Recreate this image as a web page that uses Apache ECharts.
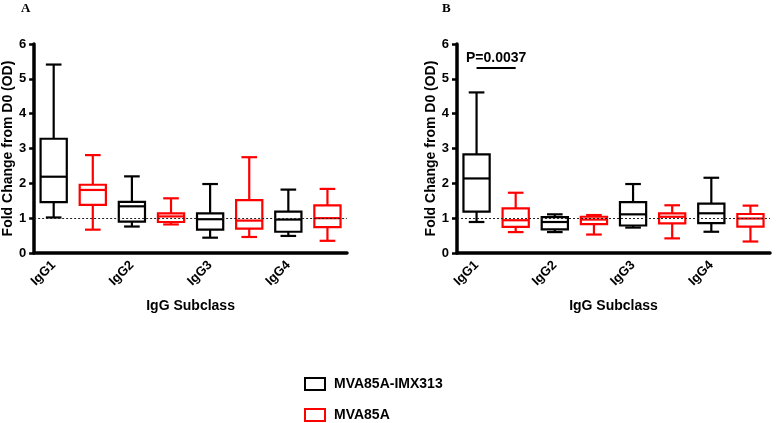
<!DOCTYPE html>
<html>
<head>
<meta charset="utf-8">
<script src="https://cdn.jsdelivr.net/npm/echarts@6/dist/echarts.min.js"></script>
<style>html,body{margin:0;padding:0;background:#fff}#c{width:777px;height:423px}</style>
</head>
<body>
<div id="c"></div>
<script>
// ---- data: each box is [min, Q1, median, Q3, max] ----
const categories = ['IgG1', 'IgG2', 'IgG3', 'IgG4'];
const seriesNames = ['MVA85A-IMX313', 'MVA85A'];
const yTicks = [0, 1, 2, 3, 4, 5, 6];
const panelA_IMX313 = [
  [1.02, 1.46, 2.19, 3.28, 5.41],
  [0.76, 0.90, 1.34, 1.47, 2.20],
  [0.44, 0.67, 0.97, 1.14, 1.98],
  [0.49, 0.61, 0.96, 1.19, 1.82]
];
const panelA_MVA85A = [
  [0.67, 1.38, 1.81, 1.96, 2.81],
  [0.82, 0.89, 1.05, 1.14, 1.57],
  [0.46, 0.70, 0.93, 1.52, 2.75],
  [0.35, 0.74, 1.00, 1.37, 1.84]
];
const panelB_IMX313 = [
  [0.89, 1.19, 2.14, 2.83, 4.61],
  [0.60, 0.68, 0.89, 1.03, 1.11],
  [0.73, 0.79, 1.11, 1.46, 1.98],
  [0.61, 0.86, 1.14, 1.42, 2.16]
];
const panelB_MVA85A = [
  [0.60, 0.75, 0.94, 1.28, 1.73],
  [0.53, 0.83, 0.96, 1.04, 1.09],
  [0.42, 0.85, 1.04, 1.14, 1.37],
  [0.33, 0.76, 0.99, 1.12, 1.36]
];
const referenceLevel = 1;
const pValueText = 'P=0.0037';
const pValueBarLevel = 5.32;

// ---- chart ----
const slotNames = categories.flatMap(c => [c, c + ' ']);
function toSlots(arr, offset) {
  return arr.map((v, i) => [2 * i + offset].concat(v));
}
function renderBox(params, api) {
  const x = api.value(0);
  const pMin = api.coord([x, api.value(1)]);
  const pQ1 = api.coord([x, api.value(2)]);
  const pMed = api.coord([x, api.value(3)]);
  const pQ3 = api.coord([x, api.value(4)]);
  const pMax = api.coord([x, api.value(5)]);
  const band = api.size([1, 0])[0];
  const hw = band * 0.335;
  const cw = band * 0.2;
  const cx = pMed[0];
  const style = { stroke: api.visual('color'), lineWidth: 2.2, fill: null };
  const line = (x1, y1, x2, y2) => ({ type: 'line', shape: { x1, y1, x2, y2 }, style });
  return {
    type: 'group',
    children: [
      { type: 'rect', shape: { x: cx - hw, y: pQ3[1], width: 2 * hw, height: pQ1[1] - pQ3[1] }, style },
      line(cx - hw, pMed[1], cx + hw, pMed[1]),
      line(cx, pQ3[1], cx, pMax[1]),
      line(cx, pQ1[1], cx, pMin[1]),
      line(cx - cw, pMax[1], cx + cw, pMax[1]),
      line(cx - cw, pMin[1], cx + cw, pMin[1])
    ]
  };
}
const boldFont = { fontFamily: 'Liberation Sans, Arial, sans-serif', fontWeight: 'bold', color: '#000' };
const grids = [
  { left: 33, top: 44, width: 314, height: 209 },
  { left: 457, top: 44, width: 313, height: 209 }
];
function xAxisFor(gi) {
  return {
    type: 'category', gridIndex: gi, data: slotNames,
    name: 'IgG Subclass', nameLocation: 'middle', nameGap: 46,
    nameTextStyle: Object.assign({ fontSize: 14 }, boldFont),
    axisLine: { lineStyle: { color: '#000', width: 3.5 } },
    axisTick: { show: false },
    axisLabel: Object.assign({ interval: 1, rotate: 45, fontSize: 13, margin: 10 }, boldFont)
  };
}
function yAxisFor(gi) {
  return {
    type: 'value', gridIndex: gi, min: yTicks[0], max: yTicks[yTicks.length - 1], interval: 1,
    name: 'Fold Change from D0 (OD)', nameLocation: 'middle', nameGap: 17,
    nameTextStyle: Object.assign({ fontSize: 14 }, boldFont),
    axisLine: { show: true, lineStyle: { color: '#000', width: 3.5 } },
    axisTick: { show: true, length: 5, lineStyle: { color: '#000', width: 2.5 } },
    axisLabel: Object.assign({ fontSize: 13, margin: 8 }, boldFont),
    splitLine: { show: false }
  };
}
const refLine = {
  silent: true, symbol: 'none', label: { show: false },
  lineStyle: { type: [2, 2], color: '#222', width: 1 },
  data: [{ yAxis: referenceLevel }]
};
function boxSeries(name, color, data, gi, offset, extraMark) {
  const s = {
    type: 'custom', name: name, xAxisIndex: gi, yAxisIndex: gi,
    itemStyle: { color: color },
    encode: { x: 0, y: [1, 2, 3, 4, 5] },
    renderItem: renderBox,
    data: toSlots(data, offset)
  };
  if (extraMark) s.markLine = extraMark;
  return s;
}
const pMark = {
  silent: true, symbol: 'none',
  lineStyle: { type: 'solid', color: '#000', width: 2 },
  label: Object.assign({ show: true, position: 'middle', formatter: pValueText, fontSize: 14, distance: 3 }, boldFont),
  data: [
    [{ coord: [0, pValueBarLevel] }, { coord: [1, pValueBarLevel] }],
  ]
};
const legendCommon = {
  left: 304, itemWidth: 20, itemHeight: 12, padding: 0,
  textStyle: Object.assign({ fontSize: 14, padding: [0, 0, 0, 4] }, boldFont)
};
const titleStyle = { fontFamily: 'Liberation Serif, Times New Roman, serif', fontWeight: 'bold', fontSize: 13, color: '#000' };
const chart = echarts.init(document.getElementById('c'), null, { renderer: 'canvas' });
chart.setOption({
  animation: false,
  backgroundColor: '#fff',
  title: [
    { text: 'A', left: 21, top: 2, padding: 0, textStyle: titleStyle },
    { text: 'B', left: 442, top: 2, padding: 0, textStyle: titleStyle }
  ],
  legend: [
    Object.assign({ top: 377, data: [{ name: seriesNames[0], icon: 'rect', itemStyle: { color: '#fff', borderColor: '#000', borderWidth: 2 } }] }, legendCommon),
    Object.assign({ top: 408, data: [{ name: seriesNames[1], icon: 'rect', itemStyle: { color: '#fff', borderColor: '#ff0000', borderWidth: 2 } }] }, legendCommon)
  ],
  grid: grids,
  xAxis: [xAxisFor(0), xAxisFor(1)],
  yAxis: [yAxisFor(0), yAxisFor(1)],
  series: [
    boxSeries(seriesNames[0], '#000', panelA_IMX313, 0, 0, refLine),
    boxSeries(seriesNames[1], '#ff0000', panelA_MVA85A, 0, 1),
    boxSeries(seriesNames[0], '#000', panelB_IMX313, 1, 0, pMark),
    boxSeries(seriesNames[1], '#ff0000', panelB_MVA85A, 1, 1, refLine)
  ]
});
</script>
</body>
</html>
